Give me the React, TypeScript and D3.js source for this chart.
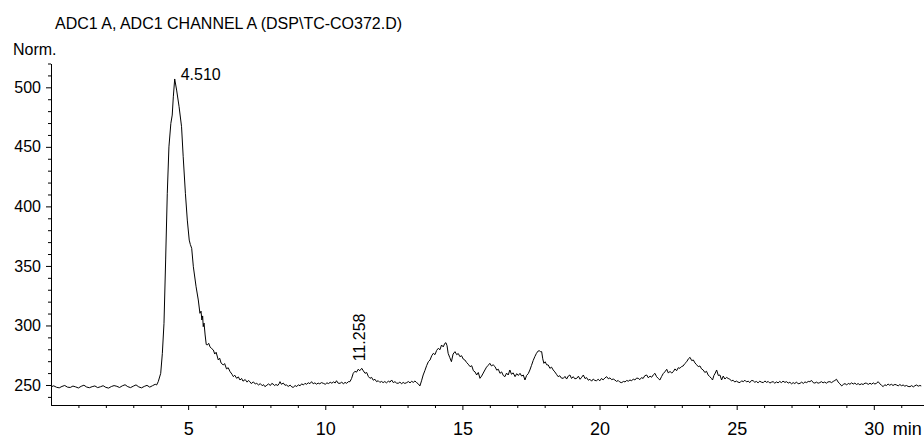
import React, { useEffect, useRef } from 'react'
import * as d3 from 'd3'

// trace, [minutes, Norm.]
const baselineStart: [number, number][] = [
  [0.0, 248.5], [0.1, 249.3], [0.2, 248.1], [0.3, 247.6], [0.4, 248.8], [0.5, 249.6], [0.6, 248.2], [0.7, 247.9],
  [0.8, 249.1], [0.9, 248.4], [1.0, 247.5], [1.1, 248.9], [1.2, 249.8], [1.3, 248.3], [1.4, 247.7], [1.5, 248.6],
  [1.6, 249.2], [1.7, 247.8], [1.8, 248.5], [1.9, 249.4], [2.0, 248.0], [2.1, 247.4], [2.2, 248.7], [2.3, 249.5],
  [2.4, 248.9], [2.5, 247.9], [2.6, 249.3], [2.7, 250.2], [2.8, 248.6], [2.9, 247.8], [3.0, 249.0], [3.1, 250.1],
  [3.2, 248.4], [3.3, 247.6], [3.4, 248.8], [3.5, 249.7], [3.6, 248.2], [3.7, 249.4], [3.8, 250.6], [3.85, 250.0],
]

const peak4510: [number, number][] = [
  [3.91, 252.8], [4.0, 259.8], [4.06, 276.6], [4.12, 301.8], [4.18, 355], [4.24, 411], [4.3, 450], [4.37, 469.7],
  [4.42, 476.7], [4.46, 492], [4.51, 507], [4.58, 497.7], [4.67, 483.7], [4.76, 466.9], [4.82, 441.7], [4.9, 411],
  [4.97, 388.5], [5.04, 371.7], [5.08, 368], [5.13, 364.8], [5.19, 349.3], [5.29, 332.5], [5.37, 321.4], [5.43, 310.2],
  [5.47, 312], [5.5, 304.6], [5.53, 308], [5.55, 299], [5.58, 302], [5.62, 292], [5.66, 284], [5.7, 283.6],
  [5.75, 285], [5.8, 282], [5.86, 280.5], [5.92, 279.4], [5.97, 276], [6.02, 277.5], [6.1, 271], [6.15, 272.5],
  [6.2, 268.5], [6.28, 266.8], [6.33, 268], [6.4, 263.5], [6.46, 264.5], [6.53, 261.2], [6.6, 259], [6.65, 257],
  [6.7, 258.2], [6.77, 255.6], [6.83, 256.8], [6.89, 254.2], [6.95, 255.5], [7.0, 253.2], [7.08, 254.6], [7.15, 252.4],
  [7.2, 253.8], [7.25, 252.8], [7.3, 251.2], [7.38, 252.6], [7.45, 250.8], [7.5, 251.4], [7.57, 250.0], [7.63, 251.2],
  [7.7, 249.4], [7.75, 250.3], [7.8, 248.6], [7.87, 249.8], [7.93, 250.9], [8.0, 249.6], [8.05, 251.3], [8.1, 250.8],
  [8.15, 249.5], [8.2, 250.4], [8.27, 249.6], [8.32, 251.2], [8.35, 252.8], [8.4, 250.6], [8.47, 251.6], [8.53, 249.8],
  [8.59, 250], [8.65, 248.8], [8.72, 249.9], [8.78, 248.4], [8.83, 248], [8.9, 249.5], [8.96, 248.7], [9.02, 250.2],
  [9.08, 249.3], [9.14, 251.0], [9.2, 250], [9.26, 251.4], [9.32, 250.6], [9.38, 251.9], [9.44, 251.1], [9.5, 252.8],
  [9.56, 251.0], [9.62, 251.8], [9.68, 250.7], [9.74, 251.6], [9.8, 251.0], [9.86, 252.0], [9.93, 251.4], [10.0, 250.6],
  [10.06, 251.8], [10.12, 251.2], [10.18, 252.3], [10.24, 251.5], [10.3, 252.6], [10.36, 251.7], [10.41, 253.6], [10.47, 251.5],
  [10.54, 251.4], [10.6, 252.5], [10.66, 250.9], [10.72, 252.2], [10.78, 251.4], [10.84, 252.8], [10.9, 252.8],
]

const peak11258: [number, number][] = [
  [10.96, 255.5], [11.02, 259.8], [11.08, 261.5], [11.14, 260.8], [11.2, 263.2], [11.26, 262.0], [11.33, 264], [11.39, 261.8],
  [11.45, 259.8], [11.51, 260.5], [11.57, 257.2], [11.63, 255.6], [11.69, 256.4], [11.75, 254.0], [11.81, 254.8], [11.87, 252.8],
  [11.93, 253.6], [11.99, 252.2], [12.05, 253.0], [12.11, 252], [12.17, 252.9], [12.23, 251.8], [12.3, 253.2], [12.36, 252.4],
  [12.42, 254.2], [12.48, 252.0], [12.54, 252.8], [12.6, 251.6], [12.66, 251.4], [12.72, 252.5], [12.78, 251.0], [12.84, 252.2],
  [12.9, 251.3], [12.97, 252], [13.03, 252.9], [13.09, 251.8], [13.15, 253.1], [13.21, 252.2], [13.27, 253.4], [13.33, 252.0],
  [13.39, 251.0], [13.45, 249.2],
]

const cluster14to18: [number, number][] = [
  [13.51, 253.5], [13.57, 258.4], [13.63, 262.0], [13.7, 266.5], [13.76, 269.6], [13.82, 271.0], [13.88, 274.5], [13.94, 276.6],
  [14.0, 275.5], [14.06, 279.0], [14.12, 280.8], [14.18, 279.6], [14.24, 283.6], [14.3, 282.0], [14.36, 285.0], [14.4, 285.5],
  [14.44, 283.0], [14.48, 276.6], [14.54, 273.0], [14.6, 269.6], [14.66, 276.0], [14.73, 278], [14.79, 275.5], [14.85, 276.4],
  [14.91, 273.8], [14.97, 274.6], [15.03, 271.8], [15.09, 271], [15.15, 269.0], [15.21, 267.5], [15.28, 265.4], [15.34, 266.2],
  [15.4, 262.0], [15.46, 261.0], [15.52, 258.4], [15.58, 260.5], [15.64, 255.6], [15.7, 257.5], [15.76, 260.0], [15.82, 262.6],
  [15.88, 265.0], [15.94, 266.5], [16.0, 268.2], [16.06, 266.0], [16.12, 267.0], [16.19, 265.4], [16.25, 262.5], [16.31, 263.2],
  [16.37, 259.8], [16.43, 261.0], [16.49, 258.0], [16.55, 257], [16.61, 260.0], [16.67, 258.4], [16.73, 262.6], [16.79, 259.0],
  [16.85, 260.2], [16.92, 257], [16.98, 259.5], [17.04, 258.0], [17.1, 259.8], [17.16, 257.5], [17.22, 258.4], [17.28, 254.2],
  [17.34, 258.0], [17.4, 259.5], [17.46, 262.6], [17.52, 266.5], [17.58, 270.5], [17.64, 273.8], [17.7, 276.6], [17.76, 278.5],
  [17.8, 278.8], [17.85, 278.0], [17.89, 278], [17.93, 272.0], [17.97, 268.2], [18.02, 269.5], [18.07, 267.0], [18.13, 266.8],
  [18.19, 264.0], [18.25, 265.0], [18.31, 262.6], [18.37, 261.0], [18.43, 259.0], [18.49, 257], [18.55, 257.8], [18.61, 255.8],
]

const hump18to25: [number, number][] = [
  [18.68, 255.6], [18.74, 257.2], [18.8, 255.0], [18.86, 257.5], [18.92, 258.4], [18.98, 255.5], [19.04, 257.0], [19.1, 255.2],
  [19.17, 255.6], [19.23, 257.4], [19.29, 254.8], [19.35, 256.5], [19.41, 258.4], [19.47, 255.4], [19.53, 256.2], [19.59, 254.0],
  [19.65, 254.8], [19.71, 253.2], [19.77, 255.0], [19.83, 253.8], [19.89, 253.6], [19.95, 254.8], [20.01, 253.5], [20.07, 255.5],
  [20.13, 254.3], [20.2, 256.0], [20.26, 257], [20.32, 255.2], [20.38, 256.0], [20.44, 254.5], [20.5, 255.0], [20.56, 254.2],
  [20.62, 253.0], [20.68, 253.8], [20.74, 252.4], [20.81, 252], [20.87, 253.0], [20.93, 252.6], [20.99, 253.8], [21.05, 253.2],
  [21.11, 254.2], [21.17, 253.5], [21.23, 255.0], [21.29, 254.2], [21.35, 255.8], [21.41, 255.6], [21.47, 254.5], [21.53, 256.2],
  [21.59, 255.5], [21.65, 257.8], [21.72, 258.4], [21.78, 256.0], [21.84, 257.5], [21.9, 256.5], [21.96, 258.5], [22.02, 259.8],
  [22.08, 257.0], [22.14, 255.5], [22.2, 254.2], [22.26, 257.0], [22.32, 259.5], [22.38, 261.0], [22.45, 263.2], [22.51, 260.0],
  [22.57, 261.5], [22.63, 260.0], [22.69, 261.2], [22.75, 263.5], [22.81, 262.0], [22.87, 264.5], [22.93, 264], [22.99, 265.5],
  [23.05, 266.0], [23.11, 268.0], [23.18, 269.6], [23.24, 272.0], [23.3, 273.2], [23.36, 270.5], [23.42, 271], [23.48, 268.5],
  [23.54, 267.0], [23.6, 265.4], [23.66, 266.0], [23.72, 263.5], [23.78, 262.6], [23.84, 260.5], [23.9, 261.5], [23.96, 258.4],
  [24.02, 257.0], [24.08, 255.5], [24.12, 254.2], [24.17, 258.0], [24.22, 260.0], [24.27, 262.6], [24.33, 258.0], [24.39, 258.4],
  [24.45, 254.2], [24.51, 257.5], [24.57, 255.0], [24.63, 256.4], [24.69, 255.5], [24.75, 254.8], [24.81, 253.5], [24.87, 254.0],
]

const baselineEnd: [number, number][] = [
  [24.93, 252.5], [24.99, 253.3], [25.05, 252.4], [25.12, 252], [25.18, 253.5], [25.24, 252.8], [25.3, 254.0], [25.36, 252.6],
  [25.42, 253.2], [25.48, 252.0], [25.54, 253.8], [25.6, 253.6], [25.66, 252.3], [25.72, 253.0], [25.78, 251.8], [25.84, 253.2],
  [25.9, 252.4], [25.97, 252], [26.03, 253.4], [26.09, 252.2], [26.15, 253.0], [26.21, 251.6], [26.27, 252.4], [26.33, 252.8],
  [26.39, 251.5], [26.45, 252.6], [26.51, 251.8], [26.57, 253.0], [26.63, 252.0], [26.69, 253.2], [26.76, 252.2], [26.82, 252.8],
  [26.88, 251.6], [26.94, 252.3], [27.0, 251.0], [27.06, 252.0], [27.12, 251.2], [27.18, 252.5], [27.24, 251.0], [27.31, 251.4],
  [27.37, 252.4], [27.43, 251.3], [27.49, 252.6], [27.55, 252.0], [27.61, 253.0], [27.67, 252.8], [27.73, 253.8], [27.79, 252.0],
  [27.85, 251.6], [27.91, 252.4], [27.97, 251.5], [28.03, 252], [28.09, 252.8], [28.15, 251.8], [28.21, 252.5], [28.27, 251.5],
  [28.33, 252.6], [28.4, 252.8], [28.46, 252.0], [28.52, 253.0], [28.58, 253.8], [28.64, 254.8], [28.7, 252.5], [28.76, 251.0],
  [28.83, 249.2], [28.89, 250.5], [28.95, 251.2], [29.01, 250.0], [29.07, 251.4], [29.13, 250.6], [29.19, 251.8], [29.25, 250.8],
  [29.31, 251.6], [29.37, 250.4], [29.43, 251.2], [29.49, 250.2], [29.55, 251.0], [29.61, 250.4], [29.68, 251.6], [29.74, 251.4],
  [29.8, 250.5], [29.86, 251.5], [29.92, 250.6], [29.98, 251.8], [30.04, 250.8], [30.1, 251.5], [30.16, 252.8], [30.22, 251.0],
  [30.28, 249.8], [30.34, 248.6], [30.4, 250.2], [30.46, 249.5], [30.52, 250.8], [30.58, 249.8], [30.64, 250.6], [30.7, 249.6],
  [30.77, 250.5], [30.83, 250], [30.89, 249.3], [30.95, 250.4], [31.01, 249.4], [31.07, 250.0], [31.13, 249.0], [31.19, 249.6],
  [31.25, 248.8], [31.32, 248.6], [31.38, 249.5], [31.44, 248.4], [31.5, 249.4], [31.56, 250], [31.62, 249.0], [31.68, 249.6],
  [31.73, 249.2],
]

const xMajorTicks = [5, 10, 15, 20, 25, 30]
const yMajorTicks = [250, 300, 350, 400, 450, 500]
const peakLabels = [
  { t: 4.51, v: 507, label: '4.510', vertical: false },
  { t: 11.258, v: 264, label: '11.258', vertical: true },
]
const title = 'ADC1 A, ADC1 CHANNEL A (DSP\\TC-CO372.D)'
const yUnit = 'Norm.'
const xUnit = 'min'

function drawChromatogram(el: SVGSVGElement) {
  const svg = d3.select(el)
  svg.selectAll('*').remove()
  const font = '"Liberation Sans", Arial, sans-serif'

  const trace = [...baselineStart, ...peak4510, ...peak11258, ...cluster14to18, ...hump18to25, ...baselineEnd]

  const x = d3.scaleLinear().domain([0, 31.83]).range([51, 924])
  const y = d3.scaleLinear().domain([233.2, 520]).range([405, 63.5])

  // x axis
  const xMinor = d3.range(1, 32).filter(d => d % 5 !== 0)
  svg.append('g').attr('transform', 'translate(0,405)')
    .call(d3.axisBottom(x).tickValues(xMinor).tickSize(3).tickSizeOuter(0).tickFormat(() => ''))
  const xg = svg.append('g').attr('transform', 'translate(0,405)')
    .call(d3.axisBottom(x).tickValues(xMajorTicks).tickSize(5).tickSizeOuter(0).tickPadding(12).tickFormat(d3.format('d')))
  xg.selectAll('text').attr('font-size', 18).attr('font-family', font).attr('fill', '#000')

  svg.append('text')
    .attr('x', x(30) + 19).attr('y', 435)
    .attr('font-size', 18).attr('font-family', font)
    .text(xUnit)

  // y axis
  const yMinor = d3.range(240, 530, 10).filter(d => d % 50 !== 0)
  svg.append('g').attr('transform', 'translate(51,0)')
    .call(d3.axisLeft(y).tickValues(yMinor).tickSize(3).tickSizeOuter(0).tickFormat(() => ''))
  const yg = svg.append('g').attr('transform', 'translate(51,0)')
    .call(d3.axisLeft(y).tickValues(yMajorTicks).tickSize(5).tickSizeOuter(0).tickPadding(5).tickFormat(d3.format('d')))
  yg.selectAll('text').attr('font-size', 16).attr('font-family', font).attr('fill', '#000')

  svg.selectAll('.domain').attr('stroke', '#000')
  svg.selectAll('.tick line').attr('stroke', '#000')

  // signal
  const line = d3.line<[number, number]>().x(d => x(d[0])).y(d => y(d[1]))
  svg.append('path')
    .datum(trace)
    .attr('fill', 'none')
    .attr('stroke', '#000')
    .attr('stroke-width', 1)
    .attr('stroke-linejoin', 'round')
    .attr('d', line)

  // peak labels
  peakLabels.forEach(p => {
    if (p.vertical) {
      svg.append('text')
        .attr('transform', `translate(${x(p.t) + 5},${y(p.v) - 7}) rotate(-90)`)
        .attr('font-size', 16).attr('font-family', font)
        .text(p.label)
    } else {
      svg.append('text')
        .attr('x', x(p.t) + 6).attr('y', y(p.v) + 1)
        .attr('font-size', 16).attr('font-family', font)
        .text(p.label)
    }
  })

  svg.append('text')
    .attr('x', 55).attr('y', 29)
    .attr('font-size', 16).attr('font-family', font)
    .text(title)
  svg.append('text')
    .attr('x', 13).attr('y', 55)
    .attr('font-size', 16).attr('font-family', font)
    .text(yUnit)
}

const App = () => {
  const ref = useRef<SVGSVGElement>(null)
  useEffect(() => {
    if (ref.current) drawChromatogram(ref.current)
  }, [])

  return (
    <svg ref={ref} width={924} height={438}
      style={{ position: 'absolute', left: 0, top: 0, background: '#fff' }} />
  )
}

export default App
